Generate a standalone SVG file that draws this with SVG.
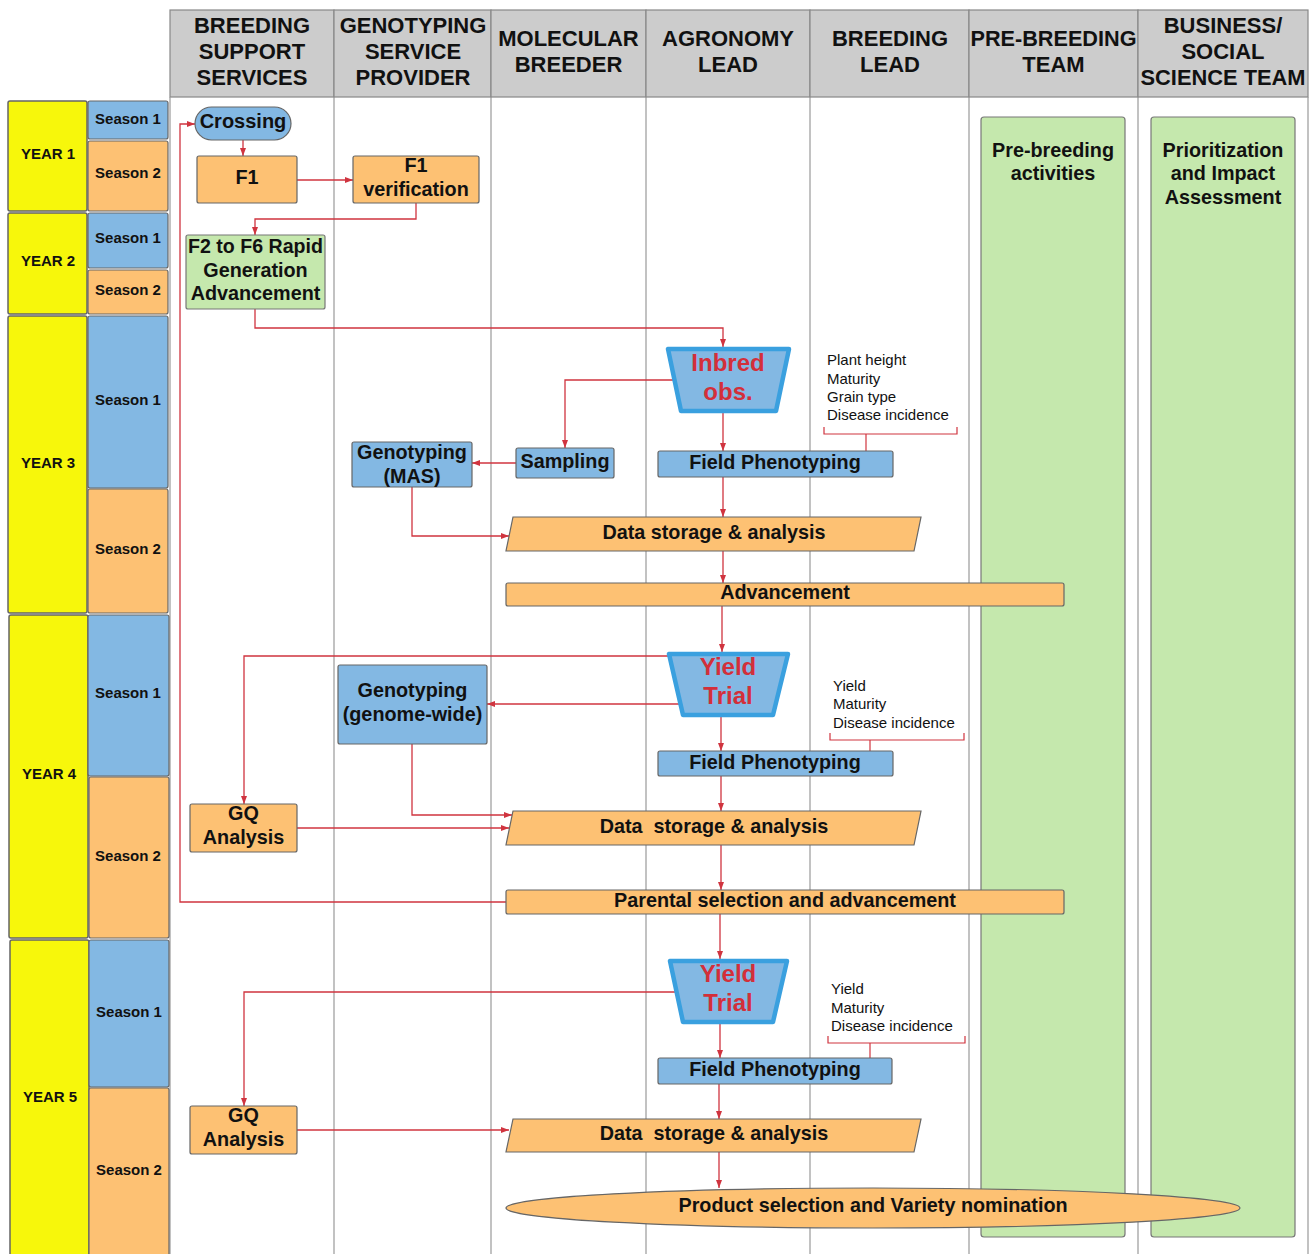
<svg xmlns="http://www.w3.org/2000/svg" width="1314" height="1254" viewBox="0 0 1314 1254">
<defs>
<marker id="ah" viewBox="0 0 8 6" refX="8" refY="3" markerWidth="8" markerHeight="6" markerUnits="userSpaceOnUse" orient="auto"><path d="M0,0 L8,3 L0,6 z" fill="#d0343f"/></marker>
<style>
text{font-family:"Liberation Sans",Arial,sans-serif;fill:#111;text-anchor:middle}
.hdr{font-size:22px;font-weight:bold}
.yr{font-size:15px;font-weight:bold}
.nt{font-size:19.8px;font-weight:bold}
.cr{font-size:20px;font-weight:bold}
.big{font-size:24px;font-weight:bold;fill:#d32f3a}
.note{font-size:15px;text-anchor:start}
.hcell{fill:#cccccc;stroke:#888;stroke-width:1.2}
.lane{stroke:#999;stroke-width:1.2}
.yel{fill:#f7f70b;stroke:#666;stroke-width:1.5}
.blue{fill:#83b8e3;stroke:#666;stroke-width:1.2}
.org{fill:#fdc173;stroke:#666;stroke-width:1.2}
.grn{fill:#c5e8ad;stroke:#777;stroke-width:1.2}
.trap{fill:#83b8e3;stroke:#3aa0df;stroke-width:4.5;stroke-linejoin:round}
.con{fill:none;stroke:#d0343f;stroke-width:1.3}
.br{fill:none;stroke:#d0343f;stroke-width:1.2}
</style>
</defs>
<rect width="1314" height="1254" fill="#fff"/>

<g id="lanes">
<rect class="hcell" x="170" y="10" width="164" height="87"/>
<rect class="hcell" x="334" y="10" width="157" height="87"/>
<rect class="hcell" x="491" y="10" width="155" height="87"/>
<rect class="hcell" x="646" y="10" width="164" height="87"/>
<rect class="hcell" x="810" y="10" width="159" height="87"/>
<rect class="hcell" x="969" y="10" width="169" height="87"/>
<rect class="hcell" x="1138" y="10" width="170" height="87"/>
<line class="lane" x1="170" y1="97" x2="170" y2="1254"/>
<line class="lane" x1="334" y1="97" x2="334" y2="1254"/>
<line class="lane" x1="491" y1="97" x2="491" y2="1254"/>
<line class="lane" x1="646" y1="97" x2="646" y2="1254"/>
<line class="lane" x1="810" y1="97" x2="810" y2="1254"/>
<line class="lane" x1="969" y1="97" x2="969" y2="1254"/>
<line class="lane" x1="1138" y1="97" x2="1138" y2="1254"/>
<line class="lane" x1="1308" y1="97" x2="1308" y2="1254"/>
<text class="hdr" x="252" y="33">BREEDING</text>
<text class="hdr" x="252" y="59">SUPPORT</text>
<text class="hdr" x="252" y="85">SERVICES</text>
<text class="hdr" x="413" y="33">GENOTYPING</text>
<text class="hdr" x="413" y="59">SERVICE</text>
<text class="hdr" x="413" y="85">PROVIDER</text>
<text class="hdr" x="568.5" y="46">MOLECULAR</text>
<text class="hdr" x="568.5" y="72">BREEDER</text>
<text class="hdr" x="728" y="46">AGRONOMY</text>
<text class="hdr" x="728" y="72">LEAD</text>
<text class="hdr" x="890" y="46">BREEDING</text>
<text class="hdr" x="890" y="72">LEAD</text>
<text class="hdr" x="1053.5" y="46" textLength="166" lengthAdjust="spacingAndGlyphs">PRE-BREEDING</text>
<text class="hdr" x="1053.5" y="72">TEAM</text>
<text class="hdr" x="1223" y="33">BUSINESS/</text>
<text class="hdr" x="1223" y="59">SOCIAL</text>
<text class="hdr" x="1223" y="85" textLength="165" lengthAdjust="spacingAndGlyphs">SCIENCE TEAM</text>
</g>

<g id="timeline">
<rect class="yel" x="8" y="101" width="79" height="110" rx="2"/>
<rect class="blue" x="88" y="101" width="80" height="38" rx="2"/>
<rect class="org" x="88" y="141" width="80" height="70" rx="2"/>
<text class="yr" x="48" y="159">YEAR 1</text>
<text class="yr" x="128" y="124">Season 1</text>
<text class="yr" x="128" y="178">Season 2</text>
<rect class="yel" x="8" y="213" width="79" height="101" rx="2"/>
<rect class="blue" x="88" y="213" width="80" height="55" rx="2"/>
<rect class="org" x="88" y="270" width="80" height="44" rx="2"/>
<text class="yr" x="48" y="266">YEAR 2</text>
<text class="yr" x="128" y="243">Season 1</text>
<text class="yr" x="128" y="295">Season 2</text>
<rect class="yel" x="8" y="316" width="79" height="297" rx="2"/>
<rect class="blue" x="88" y="316" width="80" height="172" rx="2"/>
<rect class="org" x="88" y="489" width="80" height="124" rx="2"/>
<text class="yr" x="48" y="468">YEAR 3</text>
<text class="yr" x="128" y="405">Season 1</text>
<text class="yr" x="128" y="554">Season 2</text>
<rect class="yel" x="9" y="615" width="79" height="323" rx="2"/>
<rect class="blue" x="88" y="615" width="81" height="161" rx="2"/>
<rect class="org" x="89" y="777" width="80" height="161" rx="2"/>
<text class="yr" x="49" y="779">YEAR 4</text>
<text class="yr" x="128" y="698">Season 1</text>
<text class="yr" x="128" y="861">Season 2</text>
<rect class="yel" x="10" y="940" width="79" height="320" rx="2"/>
<rect class="blue" x="89" y="940" width="80" height="147" rx="2"/>
<rect class="org" x="89" y="1088" width="80" height="172" rx="2"/>
<text class="yr" x="50" y="1102">YEAR 5</text>
<text class="yr" x="129" y="1017">Season 1</text>
<text class="yr" x="129" y="1175">Season 2</text>
</g>

<g id="prebreeding">
<rect class="grn" x="981" y="117" width="144" height="1120" rx="3"/>
<text class="nt" x="1053" y="157">Pre-breeding</text>
<text class="nt" x="1053" y="180">activities</text>
</g>
<g id="business">
<rect class="grn" x="1151" y="117" width="144" height="1120" rx="3"/>
<text class="nt" x="1223" y="157">Prioritization</text>
<text class="nt" x="1223" y="180">and Impact</text>
<text class="nt" x="1223" y="204">Assessment</text>
</g>

<g id="connectors">
<polyline class="con" points="506,902 180,902 180,124 195,124" marker-end="url(#ah)"/>
<line class="con" x1="243" y1="140" x2="243" y2="156" marker-end="url(#ah)"/>
<line class="con" x1="297" y1="180" x2="353" y2="180" marker-end="url(#ah)"/>
<polyline class="con" points="416,203 416,219 255,219 255,235" marker-end="url(#ah)"/>
<polyline class="con" points="255,309 255,328 723,328 723,347" marker-end="url(#ah)"/>
<polyline class="con" points="674,380 565,380 565,448" marker-end="url(#ah)"/>
<line class="con" x1="723" y1="413" x2="723" y2="451" marker-end="url(#ah)"/>
<line class="con" x1="516" y1="463" x2="472" y2="463" marker-end="url(#ah)"/>
<polyline class="con" points="412,487 412,536 509,536" marker-end="url(#ah)"/>
<line class="con" x1="723" y1="477" x2="723" y2="517" marker-end="url(#ah)"/>
<line class="con" x1="723" y1="551" x2="723" y2="583" marker-end="url(#ah)"/>
<line class="con" x1="722" y1="606" x2="722" y2="652" marker-end="url(#ah)"/>
<polyline class="con" points="669,656 244,656 244,804" marker-end="url(#ah)"/>
<line class="con" x1="680" y1="704" x2="487" y2="704" marker-end="url(#ah)"/>
<line class="con" x1="721" y1="717" x2="721" y2="751" marker-end="url(#ah)"/>
<polyline class="con" points="412,744 412,815 512,815" marker-end="url(#ah)"/>
<line class="con" x1="297" y1="828" x2="509" y2="828" marker-end="url(#ah)"/>
<line class="con" x1="721" y1="776" x2="721" y2="811" marker-end="url(#ah)"/>
<line class="con" x1="721" y1="845" x2="721" y2="890" marker-end="url(#ah)"/>
<line class="con" x1="720" y1="914" x2="720" y2="959" marker-end="url(#ah)"/>
<polyline class="con" points="676,992 244,992 244,1106" marker-end="url(#ah)"/>
<line class="con" x1="720" y1="1024" x2="720" y2="1058" marker-end="url(#ah)"/>
<line class="con" x1="297" y1="1130" x2="509" y2="1130" marker-end="url(#ah)"/>
<line class="con" x1="719" y1="1084" x2="719" y2="1119" marker-end="url(#ah)"/>
<line class="con" x1="719" y1="1152" x2="719" y2="1188" marker-end="url(#ah)"/>
<polyline class="br" points="824,427 824,434 957,434 957,427"/>
<line class="br" x1="866" y1="434" x2="866" y2="451"/>
<polyline class="br" points="830,733 830,740 964,740 964,733"/>
<line class="br" x1="870" y1="740" x2="870" y2="751"/>
<polyline class="br" points="828,1036 828,1043 965,1043 965,1036"/>
<line class="br" x1="870" y1="1043" x2="870" y2="1058"/>
</g>

<g id="crossing">
<rect class="blue" x="195" y="107" width="96" height="33" rx="16.5"/>
<text class="cr" x="243" y="128">Crossing</text>
</g>
<g id="f1">
<rect class="org" x="197" y="156" width="100" height="47" rx="2"/>
<text class="nt" x="247" y="184">F1</text>
</g>
<g id="f1-verification">
<rect class="org" x="353" y="156" width="126" height="47" rx="2"/>
<text class="nt" x="416" y="172">F1</text>
<text class="nt" x="416" y="196">verification</text>
</g>
<g id="rga">
<rect class="grn" x="186" y="235" width="139" height="74" rx="2"/>
<text class="nt" x="255.5" y="253" textLength="135" lengthAdjust="spacingAndGlyphs">F2 to F6 Rapid</text>
<text class="nt" x="255.5" y="277">Generation</text>
<text class="nt" x="255.5" y="300">Advancement</text>
</g>
<g id="inbred-obs">
<polygon class="trap" points="668,349 789,349 776,411 681,411"/>
<text class="big" x="728" y="371">Inbred</text>
<text class="big" x="728" y="400">obs.</text>
</g>
<g id="traits-1">
<text class="note" x="827" y="365">Plant height</text>
<text class="note" x="827" y="384">Maturity</text>
<text class="note" x="827" y="402">Grain type</text>
<text class="note" x="827" y="420">Disease incidence</text>
</g>
<g id="sampling">
<rect class="blue" x="516" y="448" width="98" height="30" rx="2"/>
<text class="nt" x="565" y="468">Sampling</text>
</g>
<g id="genotyping-mas">
<rect class="blue" x="352" y="442" width="120" height="45" rx="2"/>
<text class="nt" x="412" y="459">Genotyping</text>
<text class="nt" x="412" y="483">(MAS)</text>
</g>
<g id="field-pheno-1">
<rect class="blue" x="658" y="451" width="235" height="26" rx="2"/>
<text class="nt" x="775" y="469">Field Phenotyping</text>
</g>
<g id="data-1">
<polygon class="org" points="513,517 921,517 914,551 506,551"/>
<text class="nt" x="714" y="539">Data storage &amp; analysis</text>
</g>
<g id="advancement">
<rect class="org" x="506" y="583" width="558" height="23" rx="2"/>
<text class="nt" x="785" y="599">Advancement</text>
</g>
<g id="yield-trial-1">
<polygon class="trap" points="669,654 788,654 773,715 683,715"/>
<text class="big" x="728" y="675">Yield</text>
<text class="big" x="728" y="704">Trial</text>
</g>
<g id="traits-2">
<text class="note" x="833" y="691">Yield</text>
<text class="note" x="833" y="709">Maturity</text>
<text class="note" x="833" y="728">Disease incidence</text>
</g>
<g id="genotyping-gw">
<rect class="blue" x="338" y="665" width="149" height="79" rx="2"/>
<text class="nt" x="412.5" y="697">Genotyping</text>
<text class="nt" x="412.5" y="721">(genome-wide)</text>
</g>
<g id="field-pheno-2">
<rect class="blue" x="658" y="751" width="235" height="25" rx="2"/>
<text class="nt" x="775" y="769">Field Phenotyping</text>
</g>
<g id="gq-1">
<rect class="org" x="190" y="804" width="107" height="48" rx="2"/>
<text class="nt" x="243.5" y="820">GQ</text>
<text class="nt" x="243.5" y="844">Analysis</text>
</g>
<g id="data-2">
<polygon class="org" points="513,811 921,811 914,845 506,845"/>
<text class="nt" x="714" y="833" xml:space="preserve">Data  storage &amp; analysis</text>
</g>
<g id="parental">
<rect class="org" x="506" y="890" width="558" height="24" rx="2"/>
<text class="nt" x="785" y="907">Parental selection and advancement</text>
</g>
<g id="yield-trial-2">
<polygon class="trap" points="670,961 787,961 773,1022 683,1022"/>
<text class="big" x="728" y="982">Yield</text>
<text class="big" x="728" y="1011">Trial</text>
</g>
<g id="traits-3">
<text class="note" x="831" y="994">Yield</text>
<text class="note" x="831" y="1013">Maturity</text>
<text class="note" x="831" y="1031">Disease incidence</text>
</g>
<g id="field-pheno-3">
<rect class="blue" x="658" y="1058" width="234" height="26" rx="2"/>
<text class="nt" x="775" y="1076">Field Phenotyping</text>
</g>
<g id="gq-2">
<rect class="org" x="190" y="1106" width="107" height="48" rx="2"/>
<text class="nt" x="243.5" y="1122">GQ</text>
<text class="nt" x="243.5" y="1146">Analysis</text>
</g>
<g id="data-3">
<polygon class="org" points="513,1119 921,1119 914,1152 506,1152"/>
<text class="nt" x="714" y="1140" xml:space="preserve">Data  storage &amp; analysis</text>
</g>
<g id="product">
<ellipse class="org" cx="873" cy="1208" rx="367" ry="20"/>
<text class="nt" x="873" y="1212">Product selection and Variety nomination</text>
</g>
</svg>
